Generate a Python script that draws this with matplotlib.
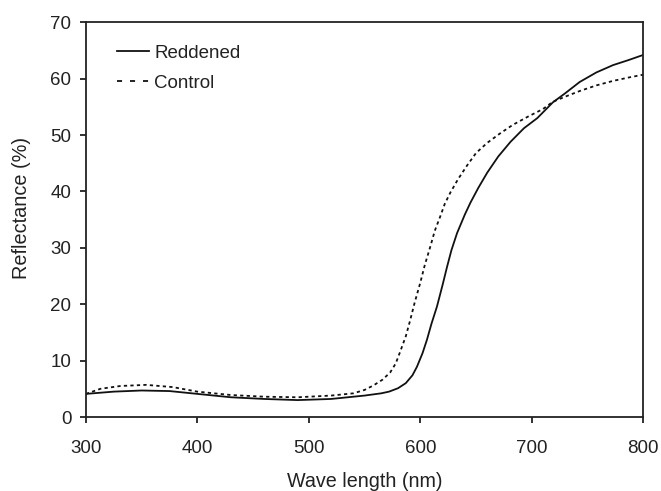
import matplotlib
matplotlib.use("Agg")
import matplotlib.pyplot as plt
from matplotlib.lines import Line2D

plt.rcParams['font.family'] = ['Liberation Sans', 'DejaVu Sans']

# Reddened (solid)
wl_red = [300, 325, 350, 375, 400, 430, 460, 490, 520, 550, 565, 572, 580, 587,
          593, 597, 602, 606, 610, 615, 620, 624, 628, 633, 640, 645, 652, 660,
          670, 681, 693, 705, 719, 730, 743, 758, 773, 787, 800]
refl_red = [4.1, 4.5, 4.7, 4.6, 4.1, 3.5, 3.2, 3.0, 3.2, 3.8, 4.2, 4.5, 5.1, 6.0,
            7.4, 8.9, 11.3, 13.7, 16.5, 19.6, 23.4, 26.6, 29.6, 32.6, 35.9, 38.0,
            40.6, 43.3, 46.2, 48.8, 51.2, 53.0, 55.8, 57.4, 59.4, 61.1, 62.4, 63.3,
            64.2]

# Control (dotted)
wl_ctrl = [300, 313, 331, 354, 378, 400, 430, 460, 490, 520, 540, 550, 558, 566,
           573, 578, 582, 587, 591, 595, 600, 604, 609, 613, 618, 622, 627, 634,
           642, 650, 660, 671, 683, 697, 710, 719, 730, 743, 758, 773, 787, 800]
refl_ctrl = [4.1, 5.0, 5.5, 5.7, 5.3, 4.5, 3.9, 3.6, 3.5, 3.8, 4.2, 4.8, 5.6, 6.6,
             7.9, 9.5, 11.6, 14.3, 17.2, 20.3, 23.8, 26.9, 30.2, 33.0, 35.6, 37.8,
             39.8, 42.2, 44.6, 46.8, 48.6, 50.2, 51.8, 53.3, 54.6, 55.9, 56.8, 57.8,
             58.8, 59.6, 60.2, 60.7]

fig = plt.figure(figsize=(6.61, 4.91), dpi=100)
ax = fig.add_axes([0.130, 0.1507, 0.843, 0.804])

ax.plot(wl_red, refl_red, color='#111111', lw=1.3, linestyle='-')
ax.plot(wl_ctrl, refl_ctrl, color='#111111', lw=1.3, linestyle=(0, (1.8, 1.8)))

ax.set_xlim(300, 800)
ax.set_ylim(0, 70)
ax.set_xticks(range(300, 801, 100))
ax.set_yticks(range(0, 71, 10))

for s in ax.spines.values():
    s.set_linewidth(1.3)
    s.set_color('#222222')
ax.tick_params(direction='out', length=4.5, width=1.3, labelsize=13.5, colors='#222222')
ax.tick_params(axis='x', pad=12)
ax.tick_params(axis='y', pad=6)

ax.set_xlabel('Wave length (nm)', fontsize=14.2, labelpad=11, color='#222222')
ax.set_ylabel('Reflectance (%)', fontsize=14.3, color='#222222')
ax.yaxis.set_label_coords(-0.099, 0.53)

# legend handles (the legend draws the control line with wider dashes)
handles = [Line2D([], [], color='#111111', lw=1.3, linestyle='-'),
           Line2D([], [], color='#111111', lw=1.3, linestyle=(0, (2.8, 4.4)))]
leg = ax.legend(handles, ['Reddened', 'Control'], loc='upper left', frameon=False,
                fontsize=13.5, handlelength=1.7, handletextpad=0.3, labelspacing=0.7,
                bbox_to_anchor=(0.025, 0.986))
for t in leg.get_texts():
    t.set_color('#222222')

fig.savefig('out.png', dpi=100)
